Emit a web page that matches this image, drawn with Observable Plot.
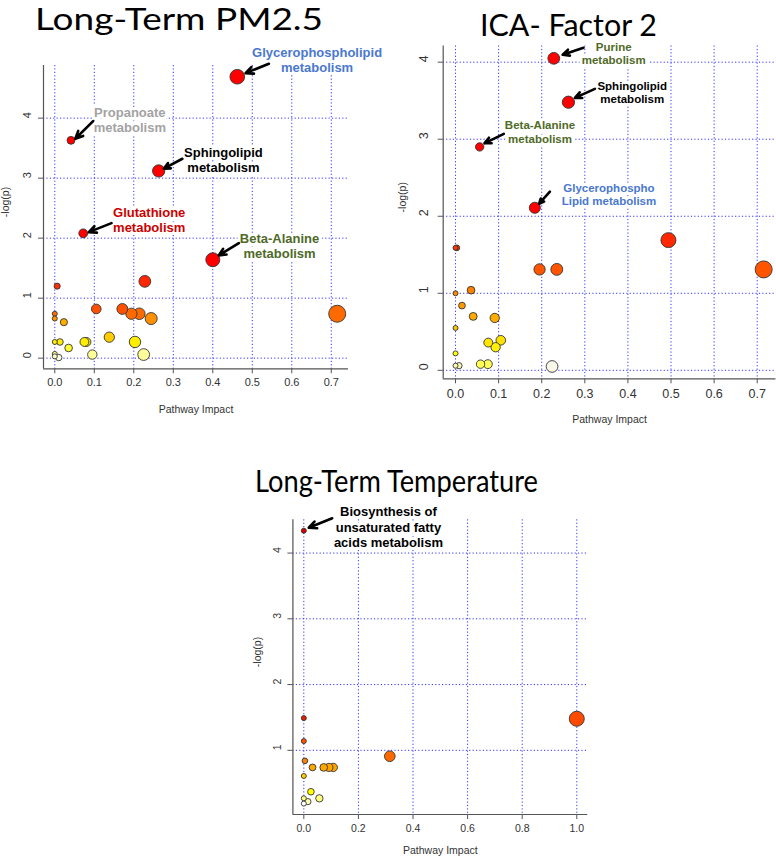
<!DOCTYPE html>
<html><head><meta charset="utf-8">
<script src="https://cdn.jsdelivr.net/npm/d3@7"></script>
<script src="https://cdn.jsdelivr.net/npm/@observablehq/plot@0.6"></script>
<style>
html,body{margin:0;padding:0;background:#fff;}
#page{position:relative;width:776px;height:860px;overflow:hidden;background:#fff;}
#page svg{position:absolute;}
</style></head><body><div id="page"></div>
<script>
// ---------- data ----------
const pm25Impact = [0.462,0.041,0.263,0.072,0.400,0.228,0.006,0.105,0.171,0.194,0.214,0.244,0.715,0.000,0.000,0.023,0.138,0.203,0.075,0.080,0.013,0.000,0.035,0.095,0.225,0.000,0.010,0.000];
const pm25LogP   = [4.69,3.63,3.12,2.08,1.64,1.28,1.20,0.82,0.82,0.74,0.74,0.66,0.74,0.74,0.66,0.60,0.35,0.27,0.27,0.27,0.27,0.27,0.17,0.06,0.06,0.07,0.01,0.03];

const icaImpact = [0.228,0.262,0.056,0.184,0.494,0.715,0.195,0.235,0.003,0.000,0.000,0.036,0.015,0.041,0.091,0.000,0.105,0.076,0.093,0.000,0.058,0.075,0.008,0.000,0.224];
const icaLogP   = [4.05,3.48,2.90,2.11,1.69,1.31,1.31,1.31,1.59,1.59,1.00,1.04,0.84,0.70,0.68,0.55,0.39,0.36,0.30,0.22,0.08,0.08,0.06,0.06,0.05];

const tempImpact = [0.000,0.000,0.000,0.004,0.032,0.073,0.092,0.108,0.315,1.000,0.000,0.026,0.057,0.000,0.015,0.000];
const tempLogP   = [4.34,1.49,1.14,0.84,0.74,0.74,0.74,0.74,0.91,1.48,0.61,0.37,0.27,0.27,0.22,0.19];

const pm25XTicks = [0,0.1,0.2,0.3,0.4,0.5,0.6,0.7];
const pm25YTicks = [0,1,2,3,4];
const icaXTicks  = [0,0.1,0.2,0.3,0.4,0.5,0.6,0.7];
const icaYTicks  = [0,1,2,3,4];
const tempXTicks = [0,0.2,0.4,0.6,0.8,1.0];
const tempYTicks = [1,2,3,4];

const titles = ["Long-Term PM2.5", "ICA- Factor 2", "Long-Term Temperature"];
const xTitle = "Pathway Impact";
const yTitle = "-log(p)";

// annotations: label text, label anchor (data units), arrow from -> to (data units)
const pm25Notes = [
  {text:"Glycerophospholipid\nmetabolism", kind:"blue",  at:[0.664,4.97], from:[0.542,4.906], to:[0.483,4.75]},
  {text:"Propanoate\nmetabolism",          kind:"gray",  at:[0.190,3.98], from:[0.097,3.95],  to:[0.052,3.657]},
  {text:"Sphingolipid\nmetabolism",        kind:"black", at:[0.427,3.30], from:[0.323,3.323], to:[0.276,3.157]},
  {text:"Glutathione\nmetabolism",         kind:"red",   at:[0.239,2.308],from:[0.1436,2.25], to:[0.0861,2.10]},
  {text:"Beta-Alanine\nmetabolism",        kind:"green", at:[0.569,1.875],from:[0.466,1.917], to:[0.415,1.712]}
];
const icaNotes = [
  {text:"Purine\nmetabolism",              kind:"green", at:[0.367,4.12], from:[0.297,4.187], to:[0.2486,4.096]},
  {text:"Sphingolipid\nmetabolism",        kind:"black", at:[0.410,3.61], from:[0.3234,3.654],to:[0.277,3.537]},
  {text:"Beta-Alanine\nmetabolism",        kind:"green", at:[0.196,3.096],from:[0.112,3.069], to:[0.067,2.947]},
  {text:"Glycerophospho\nLipid metabolism",kind:"blue",  at:[0.356,2.283],from:[0.219,2.319], to:[0.194,2.163]}
];
const tempNotes = [
  {text:"Biosynthesis of\nunsaturated fatty\nacids metabolism", kind:"black", at:[0.310,4.40], from:[0.104,4.53], to:[0.018,4.385]}
];

// ---------- styling ----------
const noteColors = {blue:"#4a78cf", gray:"#a3a3a3", black:"#000000", red:"#cc0000", green:"#4f6a28"};
const FONT = "'Liberation Sans', Arial, Helvetica, sans-serif";

function rExtent(v){ const [a,b] = d3.extent(v); const p = (b-a)*0.04; return [a-p, b+p]; }

function panel(o){
  const rows = o.impact.map((x,i)=>({impact:x, logp:o.logp[i]}));
  const xd = rExtent(o.impact), yd = rExtent(o.logp);
  const fmt = d3.format(o.xFormat);
  const svg = Plot.plot({
    width:o.W, height:o.H,
    marginTop:o.m[0], marginRight:o.m[1], marginBottom:o.m[2], marginLeft:o.m[3],
    x:{domain:xd}, y:{domain:yd},
    r:{type:"sqrt", domain:[0, d3.max(o.impact)], range:[2.5, o.rMax]},
    color:{type:"linear", domain:o.cDomain, range:o.cRange, clamp:true, interpolate:"rgb"},
    style:{fontFamily:FONT, overflow:"visible", background:"transparent"},
    marks:[
      Plot.gridX(o.xTicks, {stroke:"#0000ff", strokeOpacity:0.8, strokeDasharray:"1.2,2.2", strokeWidth:1}),
      Plot.gridY(o.yTicks, {stroke:"#0000ff", strokeOpacity:0.8, strokeDasharray:"1.2,2.2", strokeWidth:1}),
      Plot.ruleX([xd[0]], {stroke:"#555", strokeWidth:1.2}),
      Plot.ruleY([yd[0]], {stroke:"#555", strokeWidth:1.2}),
      Plot.axisX(o.xTicks, {tickSize:5, tickFormat:()=>"", label:null, color:"#555"}),
      Plot.axisY(o.yTicks, {tickSize:5, tickFormat:()=>"", label:null, color:"#555"}),
      Plot.text(o.xTicks, {x:d=>d, frameAnchor:"bottom", dy:o.xLabDy, text:d=>fmt(d), fontSize:o.tickFont, fill:"#333"}),
      Plot.text(o.yTicks, {y:d=>d, frameAnchor:"left", dx:o.yLabDx, text:d=>String(d), rotate:-90, fontSize:o.tickFont, fill:"#333"}),
      Plot.text([xTitle], {frameAnchor:"bottom", dy:o.xTitleDy, fontSize:10.5, fill:"#333"}),
      Plot.text([yTitle], {frameAnchor:"left", dx:o.yTitleDx, rotate:-90, fontSize:10.5, fill:"#333"}),
      Plot.dot(rows, {x:"impact", y:"logp", r:"impact", fill:"logp", stroke:"#333", strokeWidth:0.9}),
      Plot.text(o.notes, {x:d=>d.at[0], y:d=>d.at[1], text:"text", fill:d=>noteColors[d.kind],
        fontWeight:"bold", fontSize:o.noteFont, lineHeight:o.noteLH, stroke:"white", strokeWidth:6, strokeLinejoin:"round"}),
      Plot.arrow(o.notes, {x1:d=>d.from[0], y1:d=>d.from[1], x2:d=>d.to[0], y2:d=>d.to[1],
        stroke:"black", strokeWidth:2.6, headLength:7, headAngle:50})
    ]
  });
  svg.style.left = o.left + "px";
  svg.style.top = o.top + "px";
  document.getElementById("page").appendChild(svg);
}

panel({impact:pm25Impact, logp:pm25LogP, xTicks:pm25XTicks, yTicks:pm25YTicks, xFormat:".1f", notes:pm25Notes,
  left:0, top:0, W:390, H:430, m:[65,42,61.7,43], rMax:8.5,
  cDomain:[0.01,0.06,0.17,0.27,0.35,0.62,0.7,0.82,1.25,1.6],
  cRange:["#ffffe6","#ffff99","#ffff33","#ffee00","#ffcc00","#ffaa00","#ff7700","#ff5000","#ff2a00","#ff0000"],
  tickFont:11, noteFont:13, noteLH:1.15, xLabDy:17, yLabDx:-16, xTitleDy:44, yTitleDx:-38});

panel({impact:icaImpact, logp:icaLogP, xTicks:icaXTicks, yTicks:icaYTicks, xFormat:".1f", notes:icaNotes,
  left:390, top:0, W:386, H:440, m:[45.5,0.5,61.7,52.7], rMax:8.5,
  cDomain:[0.05,0.08,0.22,0.36,0.55,0.7,1.0,1.31,1.6,2.0],
  cRange:["#f8f8e8","#ffff55","#ffff00","#ffe600","#ffc400","#ffaa00","#ff8800","#ff5500","#ff3300","#ff0000"],
  tickFont:12.5, noteFont:11.5, noteLH:1.16, xLabDy:19, yLabDx:-19.4, xTitleDy:44, yTitleDx:-41});

panel({impact:tempImpact, logp:tempLogP, xTicks:tempXTicks, yTicks:tempYTicks, xFormat:".1f", notes:tempNotes,
  left:220, top:440, W:380, H:420, m:[79.3,12.8,46,72.4], rMax:7.5,
  cDomain:[0.19,0.22,0.27,0.37,0.61,0.74,0.84,0.91,1.14,1.48,1.49,4.34],
  cRange:["#ffffff","#ffffb0","#ffff80","#ffff00","#ffcc00","#ffa500","#ff7f00","#ff6a00","#ff5000","#ff4a00","#e02000","#d00000"],
  tickFont:10.5, noteFont:13, noteLH:1.19, xLabDy:17.7, yLabDx:-15, xTitleDy:39, yTitleDx:-35.7});

// ---------- panel titles ----------
const ns = "http://www.w3.org/2000/svg";
const ov = document.createElementNS(ns, "svg");
ov.setAttribute("width", 776); ov.setAttribute("height", 860);
ov.style.left = "0px"; ov.style.top = "0px"; ov.style.pointerEvents = "none";
const titlePos = [[35,29.8,288,30],[480,36,177,30],[255,492,283,31]];
titles.forEach((t,i)=>{
  const el = document.createElementNS(ns, "text");
  el.setAttribute("x", titlePos[i][0]); el.setAttribute("y", titlePos[i][1]);
  el.setAttribute("textLength", titlePos[i][2]); el.setAttribute("lengthAdjust", "spacingAndGlyphs");
  el.setAttribute("font-family", "Lato, 'Open Sans', sans-serif");
  el.setAttribute("font-size", titlePos[i][3]); el.setAttribute("fill", "#000");
  el.textContent = t;
  ov.appendChild(el);
});
document.getElementById("page").appendChild(ov);
</script>
</body></html>
